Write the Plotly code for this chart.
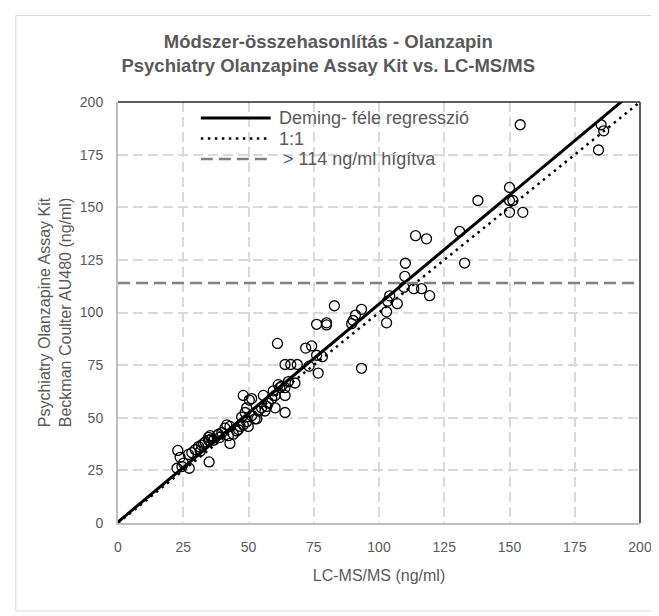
import plotly.graph_objects as go

# ---- data ----
lcms = [
    22.9, 23.8, 22.6, 24.5, 27.3, 25.1, 27.0, 28.3, 29.6, 30.9, 31.5, 32.0, 32.8, 33.4,
    34.7, 34.7, 35.3, 34.9, 35.9, 36.6, 37.9, 38.5, 39.1, 39.8, 41.0, 41.7, 42.3,
    42.9, 42.9, 44.2, 45.5, 46.1, 46.8, 47.4, 48.0, 48.7, 49.3, 49.3, 49.9, 48.0,
    50.3, 51.2, 51.2, 52.5, 53.2, 53.8, 55.0, 55.7, 56.3, 57.0, 57.6, 58.9, 60.2,
    60.2, 59.5, 61.4, 62.0, 62.7, 64.0, 64.0, 64.0, 65.3, 67.8, 64.0, 66.2, 68.7,
    73.2, 61.1, 71.9, 74.2, 76.1, 78.3, 76.7, 93.3, 76.1, 79.9, 79.9, 82.9, 89.5,
    90.1, 91.0, 93.3, 102.9, 102.9, 103.3, 104.1, 107.0, 109.6, 109.9, 110.1,
    113.3, 116.3, 119.4, 114.0, 118.2, 130.9, 132.8, 137.9, 150.0, 150.0, 151.3,
    150.0, 155.1, 154.1, 184.1, 185.1, 186.1,
]
au480 = [
    34.5, 31.2, 26.0, 26.8, 26.0, 28.4, 32.6, 33.4, 34.8, 36.3, 34.1, 37.0, 37.8, 38.5,
    39.3, 40.7, 41.5, 29.0, 40.0, 39.3, 41.5, 42.2, 40.7, 42.9, 45.1, 46.6, 41.5,
    45.9, 37.8, 42.2, 43.7, 44.4, 45.9, 50.3, 46.6, 52.5, 54.7, 48.1, 45.9, 60.6,
    58.4, 59.1, 51.0, 49.5, 49.5, 53.2, 54.7, 60.6, 53.2, 55.4, 56.9, 59.1, 54.7,
    60.6, 62.8, 65.7, 64.3, 65.0, 52.5, 60.6, 64.3, 67.2, 66.5, 75.3, 75.3, 75.3,
    74.5, 85.3, 83.1, 84.1, 79.7, 79.0, 71.2, 73.5, 94.4, 95.1, 94.1, 103.2, 94.7,
    96.2, 98.8, 101.5, 100.3, 95.1, 105.4, 107.9, 104.2, 112.0, 117.2, 123.4,
    111.3, 111.3, 108.0, 136.5, 135.0, 138.5, 123.5, 153.2, 159.4, 153.2, 153.2,
    147.6, 147.6, 189.2, 177.2, 189.2, 186.3,
]
deming_slope = 1.035
deming_intercept = 0.5
identity_slope = 1.0
dilution_limit = 114
line_x = [0, 200]
axis_ticks = [0, 25, 50, 75, 100, 125, 150, 175, 200]

title_text = ("<b>Módszer-összehasonlítás - Olanzapin</b><br>"
              "<b>Psychiatry Olanzapine Assay Kit vs. LC-MS/MS</b>")
x_title = "LC-MS/MS (ng/ml)"
y_title = "Psychiatry Olanzapine Assay Kit<br>Beckman Coulter AU480 (ng/ml)"
legend_names = ["Deming- féle regresszió", "1:1", "> 114 ng/ml hígítva"]

GREY_TEXT = "#595959"
FONT = "Liberation Sans, Arial, sans-serif"

# line styles (shared by the traces and the legend samples)
deming_style = dict(color="black", width=3)
identity_style = dict(color="black", width=2.5, dash="2.5px,4.5px")
limit_style = dict(color="#808080", width=2.5, dash="12px,6px")

fig = go.Figure()

fig.add_trace(go.Scatter(
    x=lcms, y=au480, mode="markers", showlegend=False,
    marker=dict(symbol="circle-open", size=10, color="black", line=dict(width=1.3)),
))
fig.add_trace(go.Scatter(
    x=line_x, y=[deming_intercept + deming_slope * v for v in line_x],
    mode="lines", name=legend_names[0], line=deming_style, showlegend=False,
))
fig.add_trace(go.Scatter(
    x=line_x, y=[identity_slope * v for v in line_x],
    mode="lines", name=legend_names[1], line=identity_style, showlegend=False,
))
fig.add_trace(go.Scatter(
    x=line_x, y=[dilution_limit for _ in line_x],
    mode="lines", name=legend_names[2], line=limit_style, showlegend=False,
))

axis_common = dict(
    range=[0, 200], tickvals=axis_ticks, ticks="",
    showgrid=True, gridcolor="#d9d9d9", gridwidth=1.5, griddash="10px,5px",
    zeroline=False, showline=True, linecolor="#bfbfbf", linewidth=2,
    tickfont=dict(size=14, color=GREY_TEXT, family=FONT),
    title_font=dict(size=16, color=GREY_TEXT, family=FONT),
    fixedrange=True,
)

fig.update_layout(
    width=659, height=616,
    margin=dict(l=110, r=27, t=94, b=101),
    paper_bgcolor="white", plot_bgcolor="white",
    font=dict(family=FONT, color=GREY_TEXT),
    title=dict(text=title_text, x=0.486, xref="container", xanchor="center",
               y=0.935, yanchor="top", yref="container",
               font=dict(size=18.5, color=GREY_TEXT, family=FONT)),
    xaxis=dict(axis_common, ticklabelstandoff=10, title=dict(text=x_title, standoff=16)),
    yaxis=dict(axis_common, ticklabelstandoff=10, title=dict(text=y_title, standoff=4)),
    showlegend=False,
)

# ---- legend drawn in the top-left corner of the plot area ----
legend_rows_y = [0.962, 0.9133, 0.8646]
legend_styles = [deming_style, identity_style, limit_style]
sample_x0, sample_x1, text_x = 0.1587, 0.2925, 0.3040
for name, style, ly in zip(legend_names, legend_styles, legend_rows_y):
    fig.add_shape(type="line", xref="paper", yref="paper",
                  x0=sample_x0, x1=sample_x1, y0=ly, y1=ly, line=style, layer="above")
    fig.add_annotation(xref="paper", yref="paper",
                       x=text_x if name != legend_names[2] else text_x + 0.009,
                       y=ly, text=name, showarrow=False, xanchor="left", yanchor="middle",
                       font=dict(size=18, color=GREY_TEXT, family=FONT))

# plot-area border (top and right) and outer chart border
fig.add_shape(type="line", xref="paper", yref="paper", x0=0, x1=1, y0=1, y1=1,
              line=dict(color="#262626", width=1.5), layer="above")
fig.add_shape(type="line", xref="paper", yref="paper", x0=1, x1=1, y0=0, y1=1,
              line=dict(color="#262626", width=1.5), layer="above")
fig.add_shape(type="rect", xref="paper", yref="paper",
              x0=-0.1958, x1=1.0307, y0=-0.209, y1=1.2055,
              line=dict(color="#d9d9d9", width=1), layer="below")

fig.write_html("out.html")
